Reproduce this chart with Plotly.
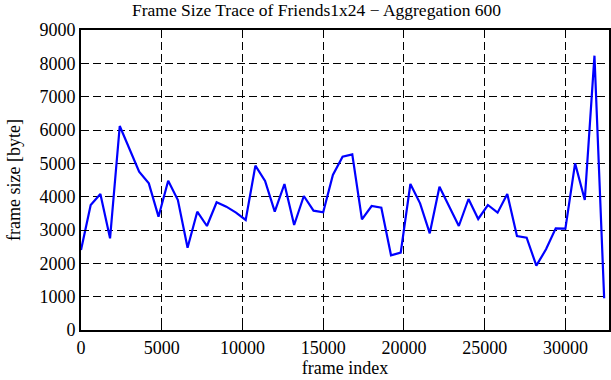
import plotly.graph_objects as go

frame_index = [i * 600 for i in range(55)]
frame_size = [2400, 3750, 4080, 2750, 6120, 5450, 4750, 4400, 3400, 4480,
              3900, 2470, 3550, 3120, 3830, 3700, 3520, 3300, 4930, 4470,
              3550, 4380, 3150, 4020, 3580, 3530, 4650, 5200, 5270, 3320,
              3720, 3670, 2240, 2320, 4380, 3800, 2900, 4300, 3700, 3120,
              3930, 3330, 3750, 3520, 4080, 2820, 2770, 1930, 2420, 3050,
              3040, 5000, 3900, 8230, 950]
x_ticks = [0, 5000, 10000, 15000, 20000, 25000, 30000]
x_tick_labels = ["0", "5000", "10000", "15000", "20000", "25000", "30000"]
y_ticks = [0, 1000, 2000, 3000, 4000, 5000, 6000, 7000, 8000, 9000]
y_tick_labels = [str(v) for v in y_ticks]

font = "Liberation Serif"

fig = go.Figure()
fig.add_trace(go.Scatter(x=frame_index, y=frame_size, mode="lines",
                         line=dict(color="#0000ff", width=2.2), showlegend=False))

axis_common = dict(showline=True, linecolor="black", linewidth=2, mirror=True,
                   showgrid=True, gridcolor="black", griddash="8px,4px", gridwidth=1,
                   ticks="inside", ticklen=6, tickcolor="black", tickwidth=1,
                   zeroline=False, automargin=False,
                   tickfont=dict(family=font, size=18, color="black"))

fig.update_layout(
    width=611, height=380,
    margin=dict(l=81, r=2, t=30, b=50, autoexpand=False),
    paper_bgcolor="white", plot_bgcolor="white",
    title=dict(text="Frame Size Trace of Friends1x24 \u2212 Aggregation 600",
               x=0.518, xanchor="center", y=0.99, yanchor="top",
               font=dict(family=font, size=17.5, color="black")),
    xaxis=dict(range=[0, 32700], tickvals=x_ticks, ticktext=x_tick_labels,
               title=dict(text="frame index", font=dict(family=font, size=18, color="black"), standoff=2),
               **axis_common),
    yaxis=dict(range=[0, 9000], tickvals=y_ticks, ticktext=y_tick_labels,
               title=dict(text="frame size [byte]", font=dict(family=font, size=18, color="black"), standoff=14),
               **axis_common),
)

fig.write_html("out.html", config={"displayModeBar": False},
               post_script="document.body.style.margin='0';")
